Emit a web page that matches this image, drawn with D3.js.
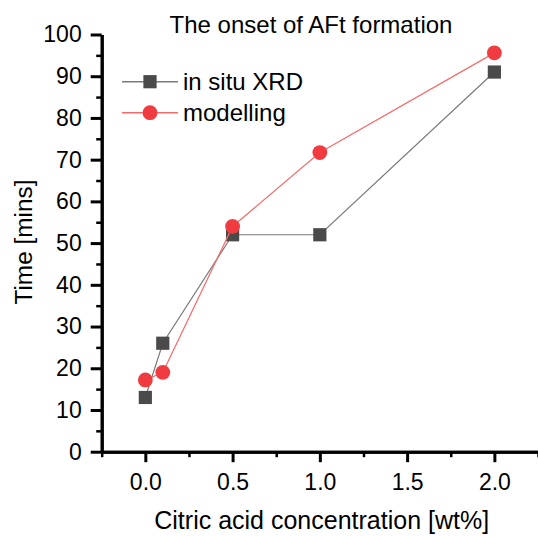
<!DOCTYPE html>
<html>
<head>
<meta charset="utf-8">
<script src="https://cdn.jsdelivr.net/npm/d3@7"></script>
<style>
  body { margin: 0; background: #fff; }
  svg { display: block; font-family: "Liberation Sans", Arial, sans-serif; }
  .axis path.domain { stroke: #000; stroke-width: 3px; }
  .axis line { stroke: #000; stroke-width: 3px; }
  .axis.minor line { stroke-width: 2.5px; }
  .axis text { font-size: 23px; fill: #000; }
</style>
</head>
<body>
<svg id="chart" width="538" height="536"></svg>
<script>
// data
var concentration = [0, 0.1, 0.5, 1.0, 2.0];
var xrdTimes = [13, 26, 52, 52, 91];
var modelTimes = [17.2, 19, 54, 71.7, 95.6];

var seriesNames = ['in situ XRD', 'modelling'];
var xTickValues = [0, 0.5, 1.0, 1.5, 2.0];
var xMinorValues = [-0.25, 0.25, 0.75, 1.25, 1.75, 2.25];
var yTickValues = [0, 10, 20, 30, 40, 50, 60, 70, 80, 90, 100];
var yMinorValues = [5, 15, 25, 35, 45, 55, 65, 75, 85, 95];

var svg = d3.select('#chart');

var x = d3.scaleLinear().domain([-0.25, 2.25]).range([101.7, 538]);
var y = d3.scaleLinear().domain([0, 100]).range([451.7, 34.5]);

// axes
svg.append('g')
  .attr('class', 'axis minor')
  .attr('transform', 'translate(0,' + y(0) + ')')
  .call(d3.axisBottom(x).tickValues(xMinorValues).tickSize(5.5).tickSizeOuter(0).tickFormat(''));

svg.append('g')
  .attr('class', 'axis')
  .attr('transform', 'translate(0,' + y(0) + ')')
  .call(d3.axisBottom(x).tickValues(xTickValues).tickSize(10.5).tickSizeOuter(0)
    .tickPadding(11).tickFormat(d3.format('.1f')));

svg.append('g')
  .attr('class', 'axis minor')
  .attr('transform', 'translate(' + x(-0.25) + ',0)')
  .call(d3.axisLeft(y).tickValues(yMinorValues).tickSize(5.5).tickSizeOuter(0).tickFormat(''));

svg.append('g')
  .attr('class', 'axis')
  .attr('transform', 'translate(' + x(-0.25) + ',0)')
  .call(d3.axisLeft(y).tickValues(yTickValues).tickSize(11).tickSizeOuter(0).tickPadding(9));

// series
var series = [
  { name: seriesNames[0], values: xrdTimes, line: '#7a7a7a', fill: '#4a4a4a', shape: 'square' },
  { name: seriesNames[1], values: modelTimes, line: '#f46a6a', fill: '#f03c40', shape: 'circle' }
];

var line = d3.line()
  .x(function(d, i) { return x(concentration[i]); })
  .y(function(d) { return y(d); });

function drawMarker(g, shape, fill) {
  if (shape === 'square') {
    g.append('rect')
      .attr('x', -6.6).attr('y', -6.6)
      .attr('width', 13.2).attr('height', 13.2)
      .attr('fill', fill);
  } else {
    g.append('circle')
      .attr('r', 7.4)
      .attr('fill', fill);
  }
}

series.forEach(function(s) {
  svg.append('path')
    .datum(s.values)
    .attr('d', line)
    .attr('fill', 'none')
    .attr('stroke', s.line)
    .attr('stroke-width', 1.2);

  s.values.forEach(function(v, i) {
    var g = svg.append('g')
      .attr('transform', 'translate(' + x(concentration[i]) + ',' + y(v) + ')');
    drawMarker(g, s.shape, s.fill);
  });
});

// legend
var legend = svg.append('g').attr('transform', 'translate(122,81.7)');
series.forEach(function(s, i) {
  var row = legend.append('g').attr('transform', 'translate(0,' + (i * 31) + ')');
  row.append('line')
    .attr('x1', 0).attr('x2', 56)
    .attr('stroke', s.line)
    .attr('stroke-width', 1.5);
  var m = row.append('g').attr('transform', 'translate(28,0)');
  drawMarker(m, s.shape, s.fill);
  row.append('text')
    .attr('x', 61).attr('y', 8.5)
    .attr('font-size', 24)
    .text(s.name);
});

// title and axis labels
svg.append('text')
  .attr('x', 311).attr('y', 33)
  .attr('text-anchor', 'middle')
  .attr('font-size', 24)
  .text('The onset of AFt formation');

svg.append('text')
  .attr('x', 321.7).attr('y', 529)
  .attr('text-anchor', 'middle')
  .attr('font-size', 25)
  .text('Citric acid concentration [wt%]');

svg.append('text')
  .attr('transform', 'translate(31.5,242) rotate(-90)')
  .attr('text-anchor', 'middle')
  .attr('font-size', 24.4)
  .text('Time [mins]');
</script>
</body>
</html>
